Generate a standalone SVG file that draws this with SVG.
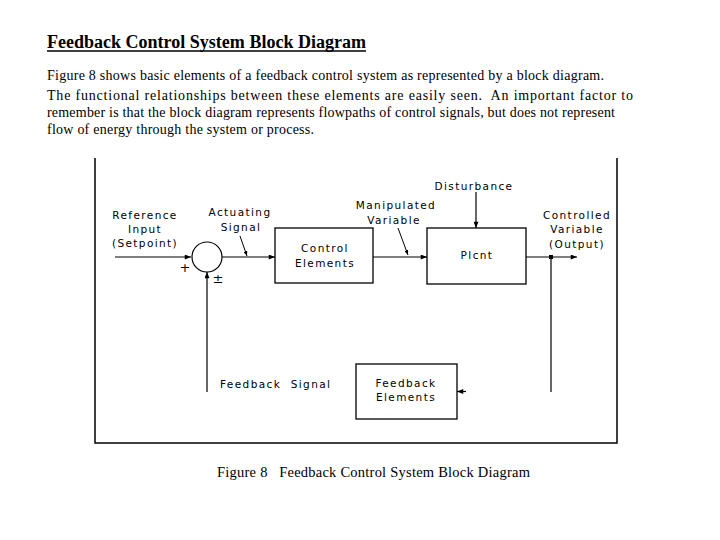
<svg xmlns="http://www.w3.org/2000/svg" width="720" height="540" viewBox="0 0 720 540">
<defs>
<style>
.bg{fill:#fff}
.title{font-family:"Liberation Serif","Times New Roman",serif;font-size:18px;font-weight:bold;fill:#000}
.para{font-family:"Liberation Serif","Times New Roman",serif;font-size:14px;fill:#000;white-space:pre}
.cap{font-family:"Liberation Serif","Times New Roman",serif;font-size:14.5px;fill:#000;white-space:pre}
.lbl{font-family:"DejaVu Sans","Liberation Sans",sans-serif;font-size:10.5px;letter-spacing:1.4px;fill:#000;text-anchor:middle;white-space:pre}
.box{fill:#fff;stroke:#000;stroke-width:1.3}
.ln{fill:none;stroke:#000;stroke-width:1.2}
.frame{fill:none;stroke:#000;stroke-width:1.5}
.lead{fill:none;stroke:#000;stroke-width:1}
</style>
<marker id="ah" viewBox="0 0 10 8" refX="10" refY="4" markerWidth="8" markerHeight="5" markerUnits="userSpaceOnUse" orient="auto">
<path d="M0,0 L10,4 L0,8 Z" fill="#000"/>
</marker>
<marker id="sh" viewBox="0 0 10 8" refX="10" refY="4" markerWidth="5" markerHeight="4" markerUnits="userSpaceOnUse" orient="auto">
<path d="M0,0 L10,4 L0,8 Z" fill="#000"/>
</marker>
</defs>
<rect class="bg" x="0" y="0" width="720" height="540"/>

<g id="header">
<text class="title" x="47" y="48" textLength="319" lengthAdjust="spacingAndGlyphs">Feedback Control System Block Diagram</text>
<line x1="47" y1="51" x2="366" y2="51" stroke="#000" stroke-width="1.5"/>
<text class="para" x="47" y="80" textLength="557" lengthAdjust="spacing">Figure 8 shows basic elements of a feedback control system as represented by a block diagram.</text>
<text class="para" x="47" y="100" textLength="586" lengthAdjust="spacing">The functional relationships between these elements are easily seen.  An important factor to</text>
<text class="para" x="47" y="117" textLength="568" lengthAdjust="spacing">remember is that the block diagram represents flowpaths of control signals, but does not represent</text>
<text class="para" x="47" y="134" textLength="267" lengthAdjust="spacing">flow of energy through the system or process.</text>
</g>

<g id="frame">
<polyline class="frame" points="95,158 95,443 617,443 617,158"/>
</g>

<g id="connectors">
<line class="ln" x1="115" y1="257" x2="191" y2="257" marker-end="url(#ah)"/>
<line class="ln" x1="222" y1="257" x2="275" y2="257" marker-end="url(#ah)"/>
<line class="ln" x1="373" y1="257" x2="427" y2="257" marker-end="url(#ah)"/>
<line class="ln" x1="526" y1="257" x2="577" y2="257" marker-end="url(#ah)"/>
<line class="ln" x1="476" y1="192" x2="476" y2="228" marker-end="url(#ah)"/>
<line class="ln" x1="207" y1="392" x2="207" y2="272" marker-end="url(#ah)"/>
<line class="ln" x1="551" y1="257" x2="551" y2="392"/>
<rect x="549" y="255" width="4" height="4" fill="#000"/>
<line class="ln" x1="466" y1="391.5" x2="457" y2="391.5" marker-end="url(#ah)"/>
<line class="lead" x1="240" y1="236" x2="247" y2="256" marker-end="url(#sh)"/>
<line class="lead" x1="398" y1="228" x2="408" y2="255" marker-end="url(#sh)"/>
</g>

<g id="summing">
<circle cx="207" cy="257" r="15" fill="#fff" stroke="#000" stroke-width="1.2"/>
<text class="lbl" x="185" y="272" style="font-size:13px;letter-spacing:0">+</text>
<text class="lbl" x="218" y="283" style="font-size:13px;letter-spacing:0">±</text>
</g>

<g id="control">
<rect class="box" x="275" y="228" width="98" height="55"/>
<text class="lbl" x="325" y="252">Control</text>
<text class="lbl" x="325" y="267">Elements</text>
</g>

<g id="plant">
<rect class="box" x="427" y="228" width="99" height="56"/>
<text class="lbl" x="477" y="259">Plcnt</text>
</g>

<g id="feedback">
<rect class="box" x="356" y="364" width="101" height="55"/>
<text class="lbl" x="406" y="387">Feedback</text>
<text class="lbl" x="406" y="401">Elements</text>
</g>

<g id="labels">
<text class="lbl" x="145" y="219">Reference</text>
<text class="lbl" x="145" y="233">Input</text>
<text class="lbl" x="145" y="247">(Setpoint)</text>
<text class="lbl" x="240" y="216">Actuating</text>
<text class="lbl" x="241" y="231">Signal</text>
<text class="lbl" x="396" y="209">Manipulated</text>
<text class="lbl" x="394" y="224">Variable</text>
<text class="lbl" x="474" y="190">Disturbance</text>
<text class="lbl" x="577" y="219">Controlled</text>
<text class="lbl" x="577" y="233">Variable</text>
<text class="lbl" x="577" y="248">(Output)</text>
<text class="lbl" x="220" y="388" style="text-anchor:start">Feedback  Signal</text>
</g>

<g id="caption">
<text class="cap" x="217" y="477" textLength="313" lengthAdjust="spacing">Figure 8   Feedback Control System Block Diagram</text>
</g>
</svg>
